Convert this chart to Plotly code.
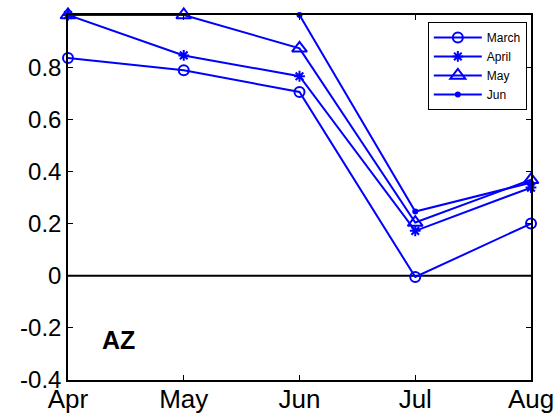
import plotly.graph_objects as go

months = ["Apr", "May", "Jun", "Jul", "Aug"]
march = [0.835, 0.788, 0.705, -0.005, 0.20]
april = [1.0, 0.845, 0.765, 0.172, 0.338]
may = [1.0, 1.0, 0.872, 0.204, 0.368]
jun = [None, None, 1.0, 0.246, 0.357]
yticks = [-0.4, -0.2, 0, 0.2, 0.4, 0.6, 0.8]

x = list(range(len(months)))
blue = "#0000ff"

series = [
    ("March", march, dict(symbol="circle-open", size=10, line=dict(width=2, color=blue))),
    ("April", april, dict(symbol="asterisk-open", size=9, line=dict(width=2, color=blue))),
    ("May", may, dict(symbol="triangle-up-open", size=13, line=dict(width=2, color=blue))),
    ("Jun", jun, dict(symbol="circle", size=6, color=blue)),
]

fig = go.Figure()
# zero reference line
fig.add_trace(go.Scatter(x=[0, 4], y=[0, 0], mode="lines",
                         line=dict(color="black", width=2), showlegend=False,
                         hoverinfo="skip"))
for name, vals, mk in series:
    fig.add_trace(go.Scatter(x=x, y=vals, name=name, mode="lines+markers",
                             line=dict(color=blue, width=2), marker=mk,
                             cliponaxis=False))

fig.add_annotation(x=0.44, y=-0.245, text="<b>AZ</b>", showarrow=False,
                   font=dict(size=25, color="black", family="Liberation Sans, Arial"))

fig.update_xaxes(range=[0, 4], tickvals=x, ticktext=months, ticks="inside",
                 ticklen=5, tickcolor="black", showline=True, linecolor="black",
                 linewidth=1.5, mirror="ticks", showgrid=False, zeroline=False,
                 automargin=False, ticklabelstandoff=-5,
                 tickfont=dict(size=26, color="black"))
fig.update_yaxes(range=[-0.4, 1.0], tickvals=yticks,
                 ticktext=[f"{v:g}" for v in yticks], ticks="inside",
                 ticklen=5, tickcolor="black", showline=True, linecolor="black",
                 linewidth=1.5, mirror="ticks", showgrid=False, zeroline=False,
                 automargin=False,
                 tickfont=dict(size=24, color="black"))

fig.update_layout(
    width=560, height=418,
    margin=dict(l=68, r=29, t=15, b=38),
    paper_bgcolor="white", plot_bgcolor="white",
    font=dict(family="Liberation Sans, Arial", color="black"),
    legend=dict(x=0.991, y=0.981, xanchor="right", yanchor="top",
                bgcolor="white", bordercolor="black", borderwidth=1,
                font=dict(size=12), tracegroupgap=0, itemsizing="trace",
                itemwidth=48),
)

fig.write_html("out.html")
